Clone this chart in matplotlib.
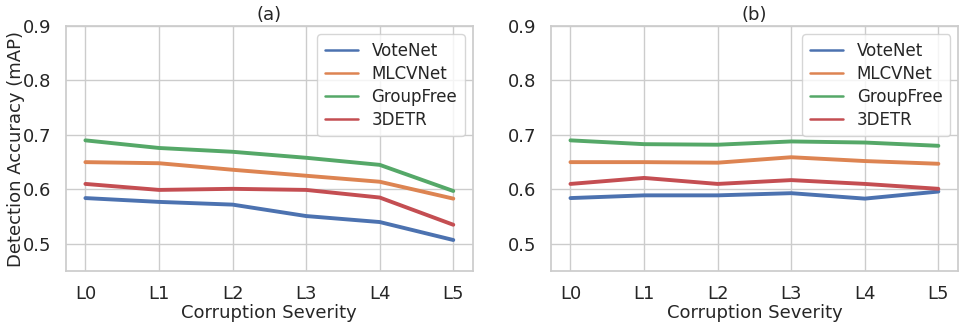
import numpy as np
import matplotlib.pyplot as plt
import seaborn as sns

sns.set_theme(style="whitegrid")
plt.rcParams['font.family'] = ['DejaVu Sans']

levels = ["L0", "L1", "L2", "L3", "L4", "L5"]
models = ["VoteNet", "MLCVNet", "GroupFree", "3DETR"]

# (a)
votenet_a = [0.584, 0.577, 0.572, 0.551, 0.540, 0.507]
mlcvnet_a = [0.650, 0.648, 0.636, 0.625, 0.614, 0.583]
groupfree_a = [0.690, 0.676, 0.669, 0.658, 0.645, 0.597]
detr_a = [0.610, 0.599, 0.601, 0.599, 0.585, 0.535]

# (b)
votenet_b = [0.584, 0.589, 0.589, 0.593, 0.583, 0.596]
mlcvnet_b = [0.650, 0.650, 0.649, 0.659, 0.652, 0.647]
groupfree_b = [0.690, 0.683, 0.682, 0.688, 0.686, 0.680]
detr_b = [0.610, 0.621, 0.610, 0.617, 0.610, 0.601]

panels = [("(a)", [votenet_a, mlcvnet_a, groupfree_a, detr_a]),
          ("(b)", [votenet_b, mlcvnet_b, groupfree_b, detr_b])]

colors = sns.color_palette("deep")[:4]

fig, axes = plt.subplots(1, 2, figsize=(9.64, 3.25), dpi=100)
x = np.arange(len(levels))

for ax, (title, series) in zip(axes, panels):
    for name, vals, c in zip(models, series, colors):
        ax.plot(x, vals, color=c, linewidth=2.8, label=name)
    ax.set_title(title, fontsize=13, pad=4)
    ax.set_xticks(x)
    ax.set_xticklabels(levels)
    ax.set_xlim(-0.27, 5.27)
    ax.set_ylim(0.45, 0.9)
    ax.set_yticks([0.5, 0.6, 0.7, 0.8, 0.9])
    ax.tick_params(labelsize=13, pad=4)
    ax.set_xlabel("Corruption Severity", fontsize=13, labelpad=0.5)
    leg = ax.legend(loc="upper right", fontsize=12, framealpha=0.8,
                    labelspacing=0.3, handlelength=2.0, borderpad=0.45)
    for h in leg.get_lines():
        h.set_linewidth(1.8)

axes[0].set_ylabel("Detection Accuracy (mAP)", fontsize=13, labelpad=-1)

fig.subplots_adjust(left=0.068, right=0.994, top=0.92, bottom=0.166, wspace=0.19)
fig.savefig("out.png", dpi=100)
